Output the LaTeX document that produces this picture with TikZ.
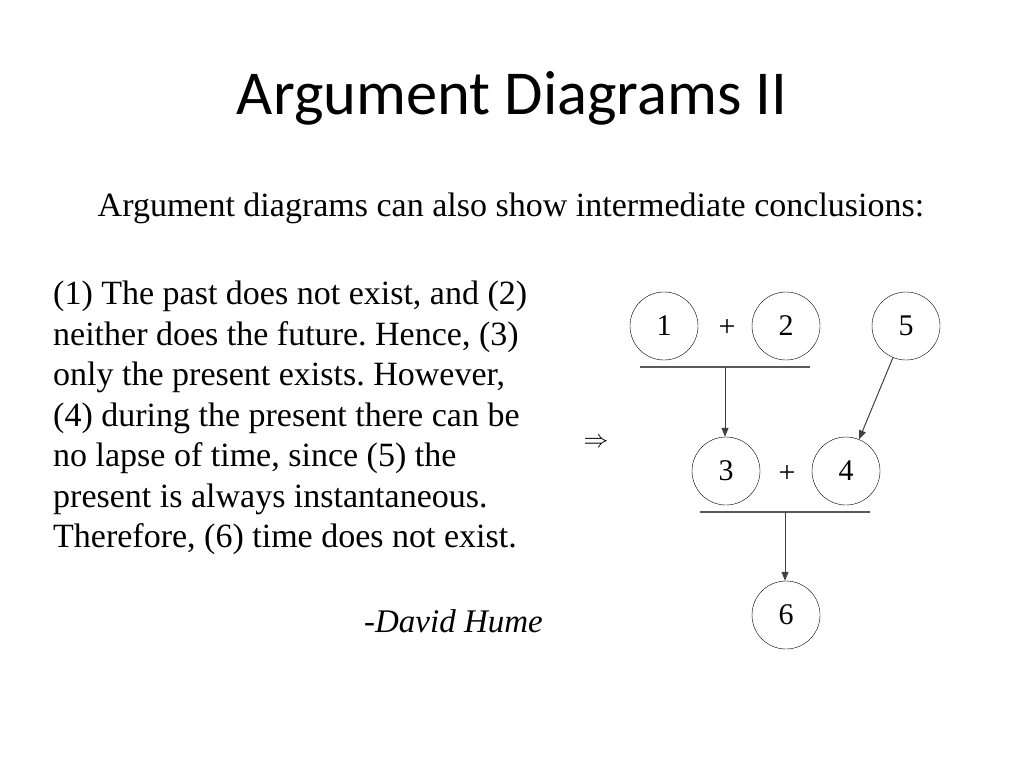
\documentclass[tikz,border=0pt]{standalone}
\usepackage{fontspec}
\setmainfont{Liberation Serif}
\newfontfamily\titlefont{Carlito}
\usetikzlibrary{arrows.meta}

\tikzset{
  stmt/.style={draw, circle, minimum size=68pt, inner sep=0pt, font=\fontsize{30}{30}\selectfont},
  plus/.style={font=\fontsize{30}{30}\selectfont},
  bar/.style={draw=black!65, line width=1.2pt},
  link/.style={draw=black!75, line width=1pt, -{Triangle[length=9pt,width=7pt]}}
}

\begin{document}
\frenchspacing
\begin{tikzpicture}[x=1pt,y=-1pt]
\useasboundingbox (0,0) rectangle (1024,768);
\node[font=\titlefont\fontsize{62.5}{62.5}\selectfont] (title) at (512,98) {Argument Diagrams II};
\node[font=\fontsize{34}{34}\selectfont] (sub) at (511,208) {Argument diagrams can also show intermediate conclusions:};
\node[anchor=north west, align=left, inner sep=0pt, font=\fontsize{34}{40.5}\selectfont] (text) at (53,281)
{(1) The past does not exist, and (2)\\
neither does the future. Hence, (3)\\
only the present exists. However,\\
(4) during the present there can be\\
no lapse of time, since (5) the\\
present is always instantaneous.\\
Therefore, (6) time does not exist.};
\node[anchor=east, inner sep=0pt, font=\itshape\fontsize{33}{33}\selectfont] (hume) at (543,621) {-David Hume};
\node[font=\fontsize{30}{30}\selectfont] (arr) at (596,443) {$\Rightarrow$};

% statements
\node[stmt] (s1) at (664,326) {1};
\node[stmt] (s2) at (786,326) {2};
\node[stmt] (s5) at (906,326) {5};
\node[stmt] (s3) at (726,471) {3};
\node[stmt] (s4) at (846,471) {4};
\node[stmt] (s6) at (786,615) {6};
\node[plus] (p1) at (727,328) {+};
\node[plus] (p2) at (787,474) {+};

% bars
\coordinate (b1l) at (640,367);
\coordinate (b1r) at (810,367);
\coordinate (b1m) at (725,367);
\coordinate (b2l) at (700,512);
\coordinate (b2r) at (870,512);
\coordinate (b2m) at (785,512);
\draw[bar] (b1l) -- (b1r);
\draw[bar] (b2l) -- (b2r);

% links
\draw[link] (b1m) -- (s3.north -| b1m);
\draw[link] (s5) -- (s4);
\draw[link] (b2m) -- (s6.north -| b2m);
\end{tikzpicture}
\end{document}
